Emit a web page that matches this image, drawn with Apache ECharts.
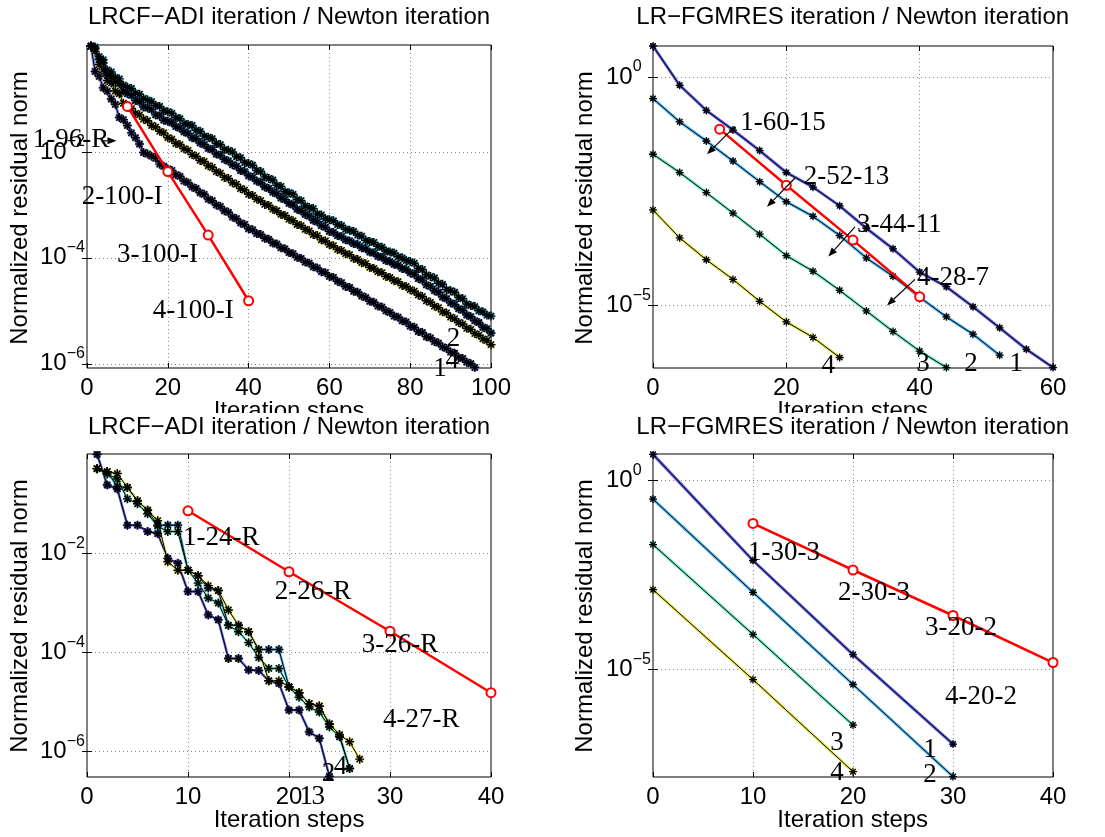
<!DOCTYPE html>
<html><head><meta charset="utf-8">
<script src="https://cdn.jsdelivr.net/npm/echarts@6/dist/echarts.min.js"></script>
<style>html,body{margin:0;padding:0;background:#fff}#c{width:1105px;height:837px}</style>
</head><body><div id="c"></div>
<script>
// ===== DATA (values are log10 of the normalized residual norm) =====
// Top-left: LRCF-ADI residual histories, x = ADI step 1..N
const adiUpper = [0.00,-0.02,-0.20,-0.26,-0.45,-0.49,-0.59,-0.62,-0.74,-0.78,
 -0.80,-0.89,-0.91,-0.99,-1.02,-1.05,-1.12,-1.14,-1.22,-1.24,
 -1.27,-1.35,-1.37,-1.46,-1.48,-1.50,-1.59,-1.61,-1.70,-1.72,
 -1.75,-1.84,-1.86,-1.95,-1.97,-2.00,-2.09,-2.11,-2.20,-2.22,
 -2.25,-2.35,-2.37,-2.47,-2.50,-2.53,-2.63,-2.65,-2.75,-2.77,
 -2.80,-2.90,-2.92,-3.02,-3.05,-3.07,-3.17,-3.19,-3.26,-3.28,
 -3.30,-3.37,-3.39,-3.46,-3.48,-3.50,-3.57,-3.59,-3.67,-3.69,
 -3.71,-3.78,-3.80,-3.87,-3.89,-3.91,-3.98,-4.00,-4.05,-4.07,
 -4.10,-4.20,-4.22,-4.32,-4.35,-4.38,-4.48,-4.50,-4.60,-4.62,
 -4.65,-4.75,-4.77,-4.87,-4.90,-4.92,-5.00,-5.02,-5.08,-5.10];
const adiSecond = [0.00,-0.05,-0.25,-0.32,-0.55,-0.58,-0.68,-0.71,-0.85,-0.90,
 -0.93,-1.03,-1.05,-1.15,-1.17,-1.20,-1.30,-1.32,-1.40,-1.42,
 -1.45,-1.52,-1.55,-1.62,-1.65,-1.73,-1.75,-1.83,-1.86,-1.93,
 -1.96,-2.04,-2.06,-2.14,-2.17,-2.24,-2.27,-2.35,-2.37,-2.45,
 -2.48,-2.55,-2.58,-2.66,-2.69,-2.76,-2.79,-2.87,-2.90,-2.97,
 -3.00,-3.08,-3.11,-3.18,-3.21,-3.29,-3.32,-3.39,-3.42,-3.50,
 -3.52,-3.58,-3.60,-3.66,-3.68,-3.73,-3.75,-3.81,-3.83,-3.89,
 -3.91,-3.97,-3.99,-4.05,-4.07,-4.12,-4.14,-4.20,-4.22,-4.28,
 -4.31,-4.39,-4.42,-4.51,-4.54,-4.62,-4.65,-4.74,-4.77,-4.85,
 -4.88,-4.96,-4.99,-5.08,-5.11,-5.19,-5.22,-5.31,-5.34,-5.42];
const adiThird = [0.00,-0.10,-0.35,-0.45,-0.65,-0.70,-0.85,-0.90,-1.08,-1.15,
 -1.18,-1.27,-1.30,-1.38,-1.41,-1.50,-1.53,-1.61,-1.64,-1.73,
 -1.76,-1.84,-1.86,-1.94,-1.97,-2.05,-2.08,-2.16,-2.18,-2.26,
 -2.29,-2.37,-2.40,-2.48,-2.50,-2.58,-2.61,-2.69,-2.72,-2.80,
 -2.82,-2.89,-2.92,-2.99,-3.01,-3.08,-3.11,-3.18,-3.20,-3.27,
 -3.30,-3.37,-3.39,-3.46,-3.49,-3.56,-3.58,-3.66,-3.68,-3.75,
 -3.77,-3.84,-3.86,-3.92,-3.94,-4.01,-4.03,-4.09,-4.11,-4.18,
 -4.20,-4.26,-4.28,-4.35,-4.37,-4.43,-4.45,-4.52,-4.54,-4.60,
 -4.63,-4.70,-4.73,-4.81,-4.84,-4.91,-4.94,-5.02,-5.04,-5.12,
 -5.15,-5.22,-5.25,-5.33,-5.35,-5.43,-5.46,-5.53,-5.56,-5.64];
const adiLower = [0.00,-0.48,-0.57,-0.79,-0.85,-1.00,-1.10,-1.35,-1.39,-1.50,
 -1.64,-1.73,-1.85,-2.01,-2.04,-2.08,-2.12,-2.23,-2.27,-2.32,
 -2.35,-2.43,-2.46,-2.55,-2.58,-2.66,-2.69,-2.77,-2.80,-2.89,
 -2.92,-3.00,-3.03,-3.11,-3.14,-3.23,-3.26,-3.34,-3.37,-3.45,
 -3.47,-3.54,-3.56,-3.63,-3.65,-3.72,-3.74,-3.81,-3.83,-3.90,
 -3.92,-3.99,-4.01,-4.08,-4.10,-4.17,-4.19,-4.26,-4.28,-4.35,
 -4.37,-4.44,-4.47,-4.54,-4.56,-4.63,-4.65,-4.72,-4.75,-4.82,
 -4.84,-4.91,-4.93,-5.00,-5.03,-5.10,-5.12,-5.19,-5.21,-5.29,
 -5.31,-5.39,-5.41,-5.49,-5.51,-5.58,-5.61,-5.68,-5.71,-5.78,
 -5.80,-5.88,-5.90,-5.97,-6.00,-6.07];

// Top-right: LR-FGMRES residual histories
const gmresStepsA1 = [0,4,8,12,16,20,24,28,32,36,40,44,48,52,56,60];
const gmresA1 = [0.68,-0.18,-0.73,-1.16,-1.61,-2.09,-2.41,-2.82,-3.31,-3.76,-4.27,-4.59,-5.03,-5.49,-5.96,-6.36];
const gmresStepsA2 = [0,4,8,12,16,20,24,28,32,36,40,44,48,52];
const gmresA2 = [-0.47,-0.98,-1.40,-1.84,-2.29,-2.73,-3.05,-3.47,-3.96,-4.36,-4.82,-5.25,-5.63,-6.09];
const gmresStepsA3 = [0,4,8,12,16,20,24,28,32,36,40,44];
const gmresA3 = [-1.69,-2.09,-2.53,-2.98,-3.44,-3.91,-4.25,-4.67,-5.12,-5.57,-6.00,-6.36];
const gmresStepsA4 = [0,4,8,12,16,20,24,28];
const gmresA4 = [-2.91,-3.52,-4.00,-4.43,-4.91,-5.36,-5.70,-6.14];

// Bottom-left: LRCF-ADI residual histories, x = ADI step 1..N
const adiB1 = [0.00,-0.62,-0.70,-1.43,-1.43,-1.56,-1.60,-2.10,-2.20,-2.77,-2.77,-3.24,-3.34,-4.12,-4.12,-4.35,-4.36,-4.57,-4.62,-5.16,-5.16,-5.60,-5.73,-6.50];
const adiB2 = [-0.29,-0.35,-0.65,-0.67,-0.94,-1.13,-1.43,-1.43,-1.43,-2.34,-2.45,-2.70,-2.75,-3.45,-3.45,-3.58,-3.94,-3.94,-3.94,-4.69,-4.81,-5.03,-5.08,-5.44,-5.66,-6.34];
const adiB3 = [-0.29,-0.40,-0.50,-0.90,-1.00,-1.20,-1.45,-1.56,-1.56,-2.34,-2.60,-2.90,-3.00,-3.45,-3.58,-3.80,-4.10,-4.32,-4.32,-4.70,-4.90,-5.10,-5.20,-5.50,-5.70,-6.34];
const adiB4 = [-0.29,-0.35,-0.39,-0.67,-0.94,-1.13,-1.34,-2.17,-2.34,-2.34,-2.45,-2.65,-2.75,-3.14,-3.45,-3.58,-3.94,-4.57,-4.57,-4.69,-4.81,-5.03,-5.08,-5.44,-5.66,-5.80,-6.15];

// Bottom-right: LR-FGMRES residual histories
const gmresStepsB12 = [0,10,20,30];
const gmresStepsB34 = [0,10,20];
const gmresB1 = [0.68,-2.12,-4.60,-6.96];
const gmresB2 = [-0.50,-2.96,-5.39,-7.82];
const gmresB3 = [-1.70,-4.07,-6.46];
const gmresB4 = [-2.89,-5.26,-7.69];

// Newton residual (red line, same in all panels)
const newtonSteps = [10,20,30,40];
const newtonRes = [-1.14,-2.37,-3.57,-4.81];

// Texts
const titlesTop = ['LRCF\u2212ADI iteration / Newton iteration','LR\u2212FGMRES iteration / Newton iteration'];
const yName = 'Normalized residual norm';
const xName = 'Iteration steps';

// Annotations (data coordinates: x step, log10 residual)
const notes = [
  [{t:'1-96-R',x:-13.4,y:-1.77},{t:'2-100-I',x:-1.3,y:-2.84},{t:'3-100-I',x:7.4,y:-3.94},{t:'4-100-I',x:16.3,y:-5.01}],
  [{t:'1-60-15',x:13.1,y:-1.01},{t:'2-52-13',x:22.6,y:-2.19},{t:'3-44-11',x:30.6,y:-3.23},{t:'4-28-7',x:39.6,y:-4.39}],
  [{t:'1-24-R',x:9.5,y:-1.69},{t:'2-26-R',x:18.6,y:-2.78},{t:'3-26-R',x:27.2,y:-3.85},{t:'4-27-R',x:29.3,y:-5.36}],
  [{t:'1-30-3',x:9.5,y:-1.91},{t:'2-30-3',x:18.5,y:-2.98},{t:'3-20-2',x:27.2,y:-3.91},{t:'4-20-2',x:29.2,y:-5.73}]
];
const nums = [
  [{t:'2',x:90.7,y:-5.53},{t:'1',x:87.4,y:-6.10},{t:'4',x:90.4,y:-5.95}],
  [{t:'4',x:26.3,y:-6.33},{t:'3',x:40.5,y:-6.29},{t:'2',x:47.7,y:-6.29},{t:'1',x:54.5,y:-6.29}],
  [{t:'2',x:23.9,y:-6.44},{t:'4',x:25.1,y:-6.31},{t:'1',x:21.7,y:-6.91},{t:'3',x:22.9,y:-6.91}],
  [{t:'3',x:18.4,y:-6.94},{t:'4',x:18.4,y:-7.72},{t:'1',x:27.7,y:-7.12},{t:'2',x:27.7,y:-7.78}]
];
const arrows = [
  [{from:[4.1,-1.79],to:[7.3,-1.79]}],
  [{from:[12.3,-1.08],to:[8.1,-1.69]},{from:[21.3,-2.21],to:[17.1,-2.84]},{from:[30.3,-3.28],to:[26.3,-3.93]},{from:[39.3,-4.43],to:[35.1,-5.0]}],
  [],[]
];

// ===== LAYOUT / STYLE =====
const panels = [
  {left:87, top:45, w:404, h:323, xMin:0, xMax:100, xInt:20, yMin:-6.08, yMax:0.02, yTicks:[-6,-4,-2]},
  {left:653, top:46, w:400, h:322, xMin:0, xMax:60, xInt:20, yMin:-6.37, yMax:0.68, yTicks:[-5,0]},
  {left:87, top:454, w:404, h:323, xMin:0, xMax:40, xInt:10, yMin:-6.51, yMax:0.005, yTicks:[-6,-4,-2]},
  {left:653, top:454, w:400, h:323, xMin:0, xMax:40, xInt:10, yMin:-7.83, yMax:0.69, yTicks:[-5,0]}
];
const STAR = 'path://M4.2,0L5.8,0L5.8,10L4.2,10Z M0,4.2L10,4.2L10,5.8L0,5.8Z M0.93,2.07L2.07,0.93L9.07,7.93L7.93,9.07Z M7.93,0.93L9.07,2.07L2.07,9.07L0.93,7.93Z';
const SANS = 'Liberation Sans';
const SERIF = 'Liberation Serif';
const pow10 = e => Math.pow(10, e);

const grids = [], xAxes = [], yAxes = [], series = [];
panels.forEach((p, gi) => {
  grids.push({left:p.left, top:p.top, width:p.w, height:p.h, show:true, borderColor:'#000', borderWidth:1, backgroundColor:'transparent'});
  const gridLine = {show:true, lineStyle:{color:'#888', type:[1,3], width:1}};
  xAxes.push({gridIndex:gi, type:'value', min:p.xMin, max:p.xMax, interval:p.xInt,
    axisLine:{show:false}, axisTick:{show:true, inside:true, length:5, lineStyle:{color:'#000'}},
    axisLabel:{fontFamily:SANS, fontSize:24, color:'#000', margin:8}, splitLine:gridLine});
  xAxes.push({gridIndex:gi, type:'value', position:'top', min:p.xMin, max:p.xMax, interval:p.xInt,
    axisLine:{show:false}, axisTick:{show:true, inside:true, length:5, lineStyle:{color:'#000'}},
    axisLabel:{show:false}, splitLine:{show:false}});
  const tv = p.yTicks.map(pow10);
  yAxes.push({gridIndex:gi, type:'log', logBase:10, min:pow10(p.yMin), max:pow10(p.yMax),
    axisLine:{show:false}, axisTick:{show:true, inside:true, length:5, customValues:tv, lineStyle:{color:'#000'}},
    axisLabel:{customValues:tv, margin:47, align:'left',
      formatter: v => { const e = Math.round(Math.log10(v)); return '{b|10}{s|' + (e < 0 ? '\u2212' + (-e) : e) + '}'; },
      rich:{ b:{fontFamily:SANS, fontSize:24, color:'#000', lineHeight:36, verticalAlign:'middle'},
             s:{fontFamily:SANS, fontSize:16, color:'#000', lineHeight:16, verticalAlign:'top'} }},
    splitLine:gridLine});
  yAxes.push({gridIndex:gi, type:'log', logBase:10, position:'right', min:pow10(p.yMin), max:pow10(p.yMax),
    axisLine:{show:false}, axisTick:{show:true, inside:true, length:5, customValues:tv, lineStyle:{color:'#000'}},
    axisLabel:{show:false}, splitLine:{show:false}});
});

function addCurve(gi, xs, logs, color, lw, circ, star) {
  const data = logs.map((v, i) => [xs[i], pow10(v)]);
  const base = {type:'line', xAxisIndex:2*gi, yAxisIndex:2*gi, data, clip:false, silent:true, animation:false};
  series.push(Object.assign({}, base, {symbol:'circle', symbolSize:circ, z:2,
    itemStyle:{color:color}, lineStyle:{color:color, width:lw}}));
  series.push(Object.assign({}, base, {symbol:STAR, symbolSize:star, z:3,
    itemStyle:{color:'#000'}, lineStyle:{color:'#000', width:1}}));
}
function addNewton(gi) {
  series.push({type:'line', xAxisIndex:2*gi, yAxisIndex:2*gi, clip:false, silent:true, animation:false, z:5,
    data: newtonRes.map((v, i) => [newtonSteps[i], pow10(v)]),
    symbol:'emptyCircle', symbolSize:9, itemStyle:{color:'#ff0000', borderColor:'#ff0000', borderWidth:2},
    lineStyle:{color:'#ff0000', width:2.5}});
}
const seqFrom1 = arr => arr.map((_, i) => i + 1);
const C1 = '#5c5ce0', C2 = '#55b8f5', C3 = '#72e8c8', C4 = '#e8e85a';
// top-left
addCurve(0, seqFrom1(adiUpper), adiUpper, '#55d6e8', 3, 8, 9);
addCurve(0, seqFrom1(adiSecond), adiSecond, '#4a86f0', 3, 8, 9);
addCurve(0, seqFrom1(adiThird), adiThird, '#e2e25a', 3, 8, 9);
addCurve(0, seqFrom1(adiLower), adiLower, '#8585f2', 3, 8, 9);
addNewton(0);
// top-right
addCurve(1, gmresStepsA1, gmresA1, C1, 3, 6, 8);
addCurve(1, gmresStepsA2, gmresA2, C2, 3, 6, 8);
addCurve(1, gmresStepsA3, gmresA3, C3, 3, 6, 8);
addCurve(1, gmresStepsA4, gmresA4, C4, 3, 6, 8);
addNewton(1);
// bottom-left
addCurve(2, seqFrom1(adiB1), adiB1, C1, 2.5, 8, 9);
addCurve(2, seqFrom1(adiB2), adiB2, C2, 2.5, 8, 9);
addCurve(2, seqFrom1(adiB3), adiB3, C3, 2.5, 8, 9);
addCurve(2, seqFrom1(adiB4), adiB4, C4, 2.5, 8, 9);
addNewton(2);
// bottom-right
addCurve(3, gmresStepsB12, gmresB1, C1, 3, 6, 8);
addCurve(3, gmresStepsB12, gmresB2, C2, 3, 6, 8);
addCurve(3, gmresStepsB34, gmresB3, C3, 3, 6, 8);
addCurve(3, gmresStepsB34, gmresB4, C4, 3, 6, 8);
addNewton(3);

const chart = echarts.init(document.getElementById('c'), null, {width:1105, height:837});
chart.setOption({animation:false, backgroundColor:'#fff', grid:grids, xAxis:xAxes, yAxis:yAxes, series:series});

// ===== TEXT / ANNOTATIONS =====
const g = [];
function txt(x, y, text, font, align, valign, z, rot) {
  g.push({type:'text', x, y, z, rotation:rot || 0, silent:true,
    style:{text, font, fill:'#000', align, verticalAlign:valign, textAlign:align, textVerticalAlign:valign}});
}
const colCenters = [289, 852.7];
const titleFont = '24px "' + SANS + '"';
txt(colCenters[0], 411, xName, titleFont, 'center', 'middle', 10);
txt(colCenters[1], 411, xName, titleFont, 'center', 'middle', 10);
g.push({type:'rect', z:20, silent:true, shape:{x:0, y:413, width:1105, height:38}, style:{fill:'#fff'}});
titlesTop.forEach((t, i) => { txt(colCenters[i], 17, t, titleFont, 'center', 'middle', 30); txt(colCenters[i], 427, t, titleFont, 'center', 'middle', 30); });
[[20,208],[585,208],[20,616],[585,616]].forEach(p => txt(p[0], p[1], yName, titleFont, 'center', 'middle', 30, Math.PI/2));
txt(colCenters[0], 820, xName, titleFont, 'center', 'middle', 30);
txt(colCenters[1], 820, xName, titleFont, 'center', 'middle', 30);

const labelFont = '27px "' + SERIF + '"';
const toPx = (gi, x, lg) => chart.convertToPixel({xAxisIndex:2*gi, yAxisIndex:2*gi}, [x, pow10(lg)]);
panels.forEach((p, gi) => {
  notes[gi].forEach(n => { const q = toPx(gi, n.x, n.y); txt(q[0], q[1], n.t, labelFont, 'left', 'middle', 40); });
  nums[gi].forEach(n => { const q = toPx(gi, n.x, n.y); txt(q[0], q[1], n.t, labelFont, 'center', 'middle', 40); });
  arrows[gi].forEach(a => {
    const s = toPx(gi, a.from[0], a.from[1]), e = toPx(gi, a.to[0], a.to[1]);
    const dx = e[0]-s[0], dy = e[1]-s[1], L = Math.hypot(dx, dy), ux = dx/L, uy = dy/L;
    const hl = 9, hw = 3.5;
    const bx = e[0]-ux*hl, by = e[1]-uy*hl;
    g.push({type:'line', z:40, silent:true, shape:{x1:s[0], y1:s[1], x2:bx, y2:by}, style:{stroke:'#000', lineWidth:1.2}});
    g.push({type:'polygon', z:40, silent:true, shape:{points:[[e[0],e[1]],[bx-uy*hw, by+ux*hw],[bx+uy*hw, by-ux*hw]]}, style:{fill:'#000'}});
  });
});
chart.setOption({graphic:{elements:g}});
</script></body></html>
